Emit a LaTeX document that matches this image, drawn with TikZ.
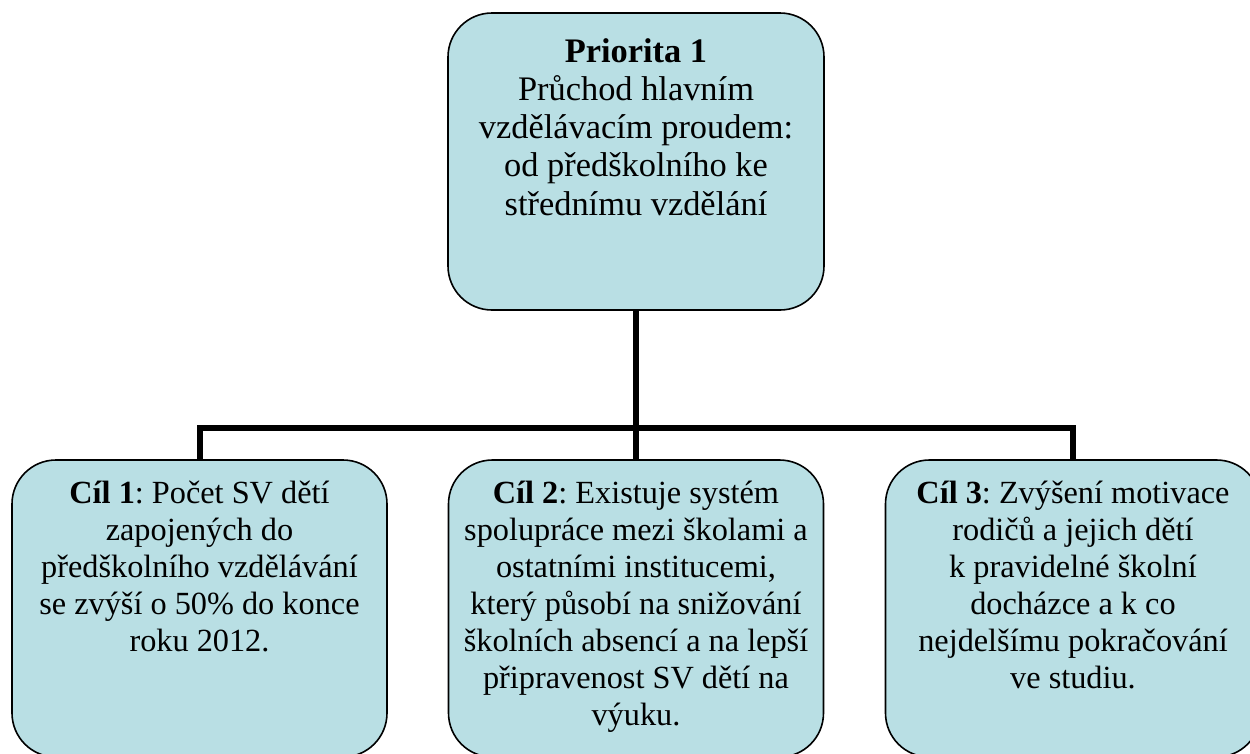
\documentclass[tikz,border=0pt]{standalone}
\usepackage{fontspec}
\setmainfont{Liberation Serif}
\definecolor{boxfill}{RGB}{185,223,228}
\newcommand\boxtext[6]{\parbox[c][#1][t]{#2}{\centering\frenchspacing\fontsize{#3}{#4}\selectfont\vspace*{#5}\rule{0pt}{30pt}#6}}
\begin{document}
\begin{tikzpicture}[x=1pt,y=-1pt,
  goal/.style={draw=black, line width=1.6pt, fill=boxfill, rounded corners=44pt, inner sep=0pt, outer sep=0pt},
  conn/.style={line width=6pt, draw=black}]
\useasboundingbox (0,0) rectangle (1250,753);
\clip (0,0) rectangle (1250,753);
\node[goal] (top) at (636,161.5) {\boxtext{297pt}{376pt}{34.4}{38.3}{19pt}{\textbf{Priorita 1}\\Průchod hlavním\\vzdělávacím proudem:\\od předškolního ke\\střednímu vzdělání}};
\node[goal] (c1) at (199.5,608.5) {\boxtext{297pt}{375pt}{32.3}{37}{13pt}{\textbf{Cíl 1}: Počet SV dětí\\zapojených do\\předškolního vzdělávání\\se zvýší o 50\% do konce\\roku 2012.}};
\node[goal] (c2) at (636,608.5) {\boxtext{297pt}{375pt}{32.3}{37}{13pt}{\textbf{Cíl 2}: Existuje systém\\spolupráce mezi školami a\\ostatními institucemi,\\který působí na snižování\\školních absencí a na lepší\\připravenost SV dětí na\\výuku.}};
\node[goal] (c3) at (1073,608.5) {\boxtext{297pt}{375pt}{32.3}{37}{13pt}{\textbf{Cíl 3}: Zvýšení motivace\\rodičů a jejich dětí\\k pravidelné školní\\docházce a k co\\nejdelšímu pokračování\\ve studiu.}};
\draw[conn] (top.south) -- (c2.north);
\draw[conn] (c1.north) -- ++(0,-32) -| (c3.north);
\end{tikzpicture}
\end{document}
